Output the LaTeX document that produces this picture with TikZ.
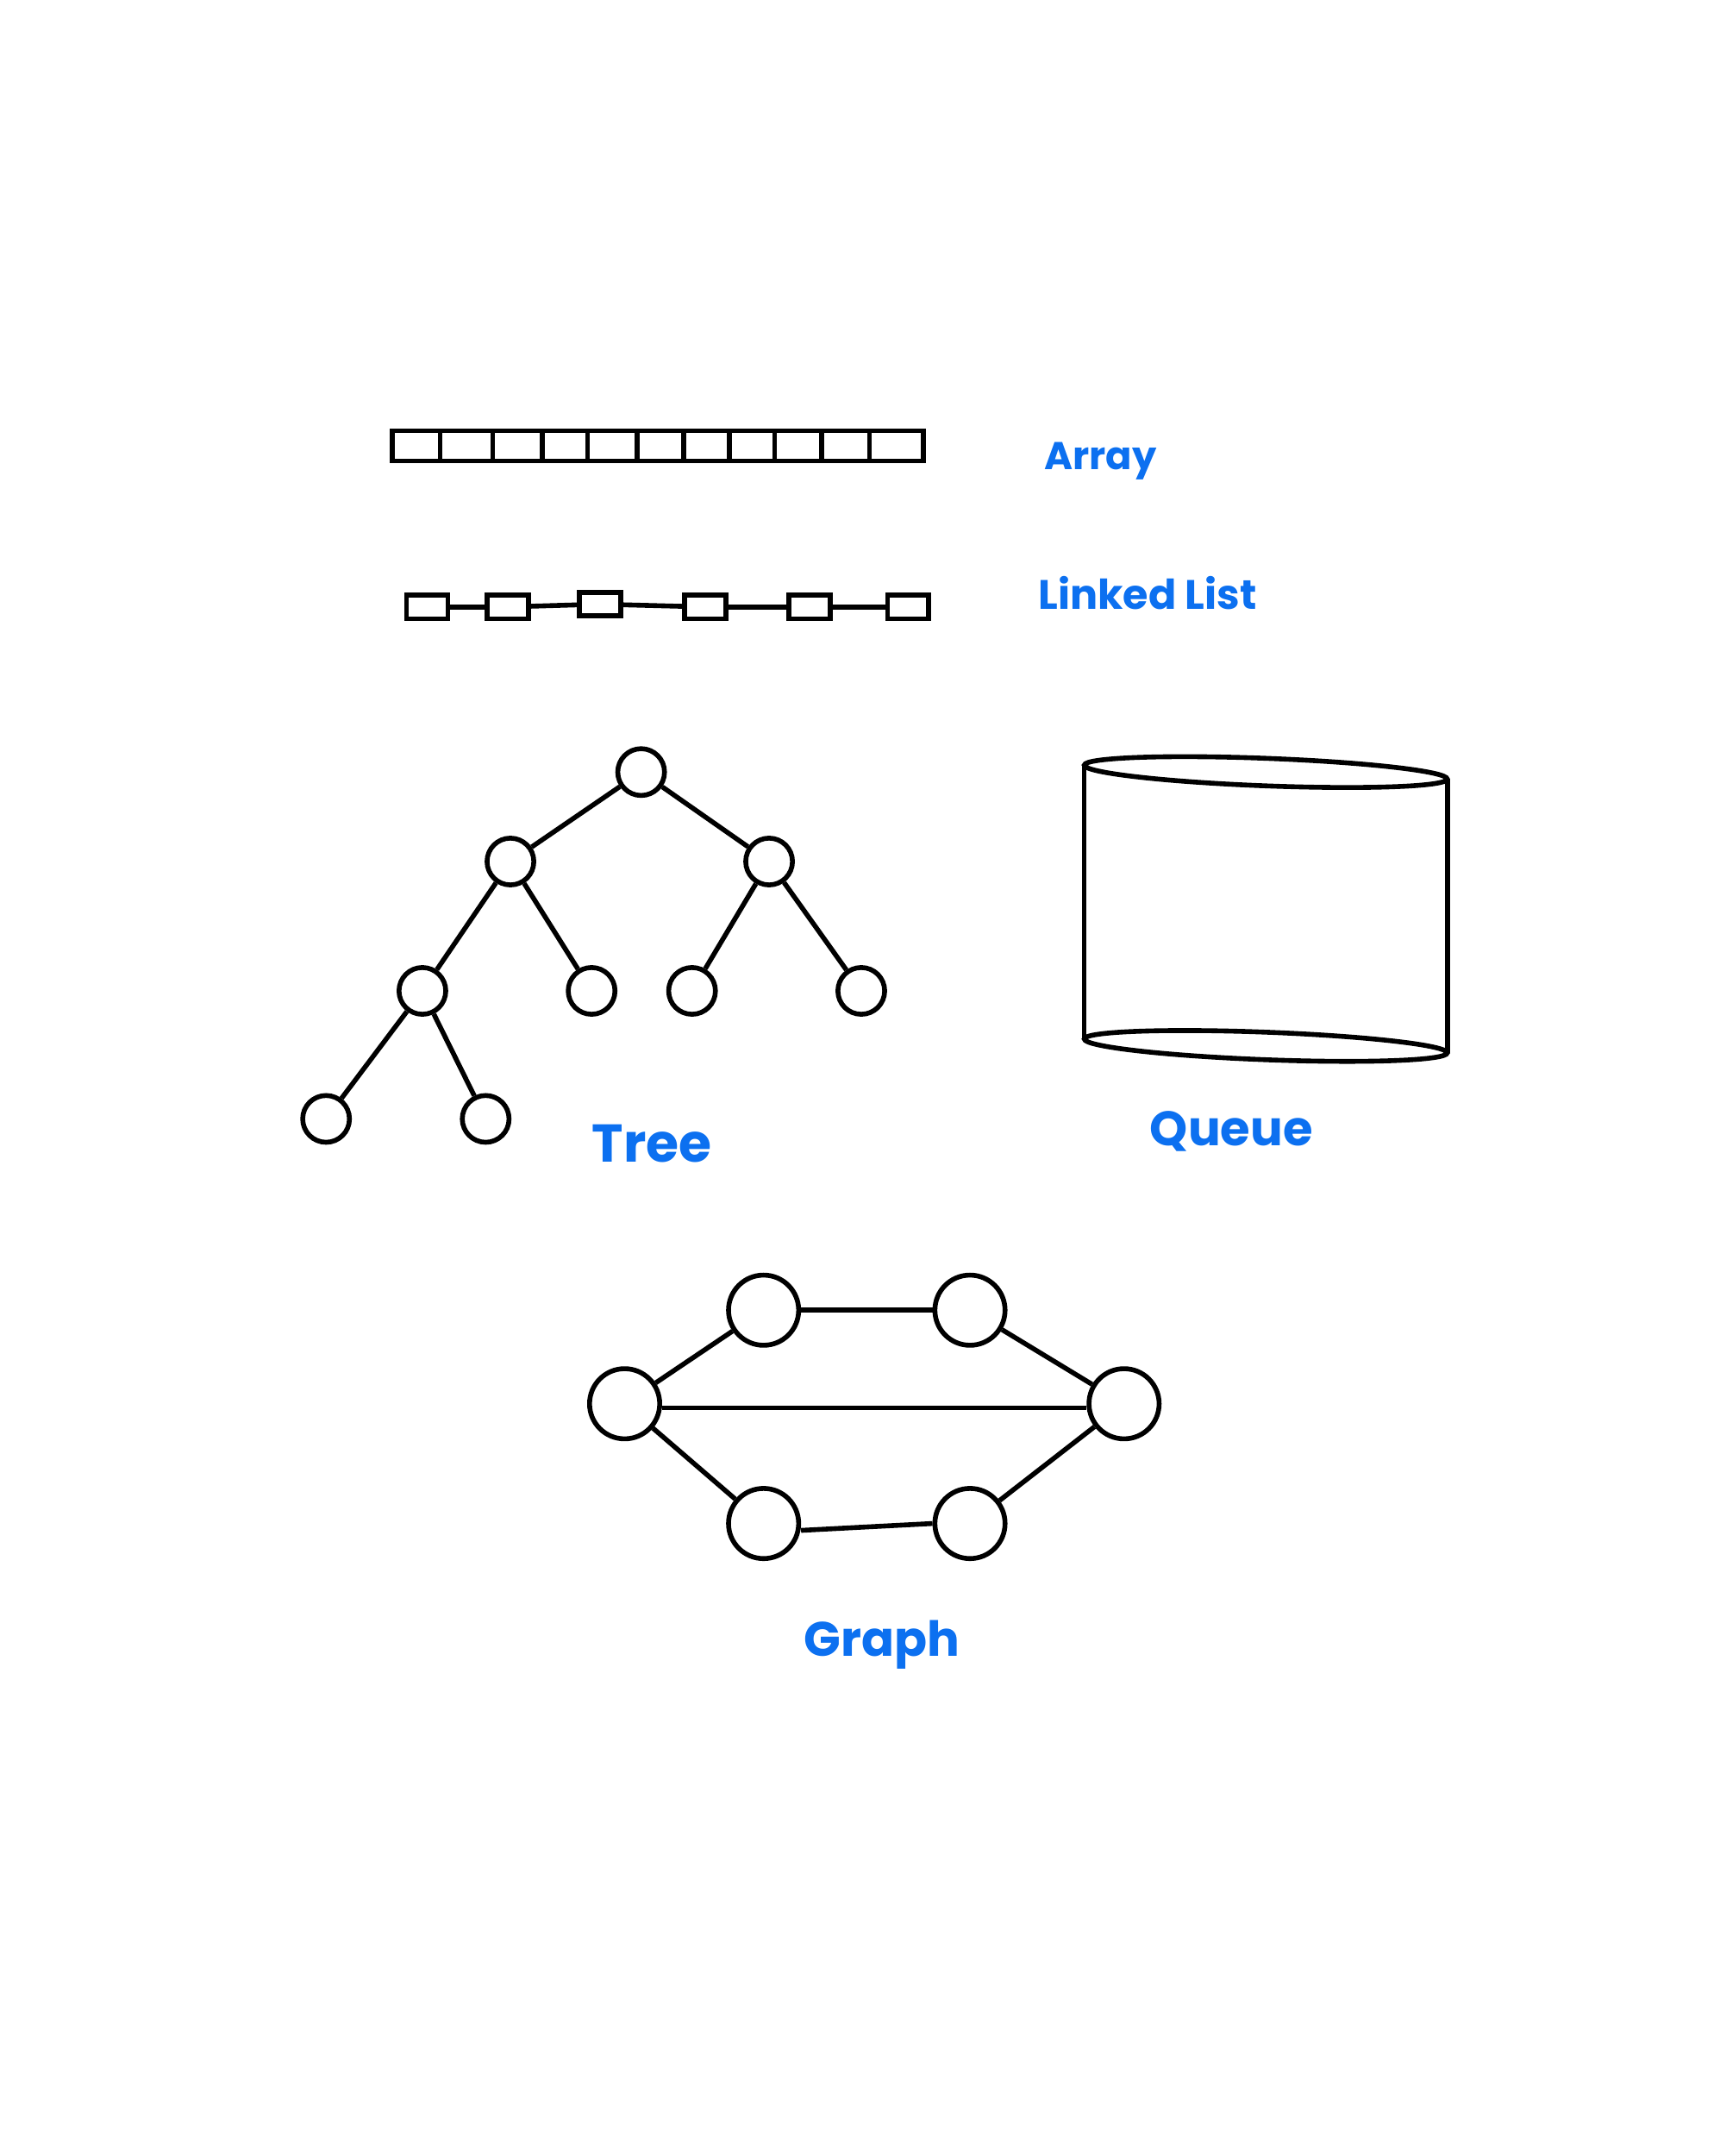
\documentclass[tikz,border=0pt]{standalone}
\usepackage{fontspec}
\setmainfont{Poppins}
\definecolor{lblblue}{RGB}{12,112,240}
\tikzset{
  knoten/.style={draw,circle,minimum size=0.68cm,inner sep=0pt},
  gknoten/.style={draw,circle,minimum size=1.02cm,inner sep=0pt},
  llbox/.style={draw,rectangle,minimum width=0.6cm,minimum height=0.34cm,inner sep=0pt},
  lbl/.style={text=lblblue,inner sep=0pt},
}
\begin{document}
\begin{tikzpicture}[x=0.02cm,y=-0.02cm,line width=2pt]

\fill[white] (0,0) rectangle (1250,1566.6);
\useasboundingbox (0,0) rectangle (1250,1566.6);

% Array (oben)
\draw (285,313) rectangle (671,335);
\draw (320,313) -- (320,335) (358,313) -- (358,335) (394,313) -- (394,335)
      (427,313) -- (427,335) (463,313) -- (463,335) (497,313) -- (497,335)
      (530,313) -- (530,335) (563,313) -- (563,335) (597,313) -- (597,335)
      (632,313) -- (632,335);
\node[lbl,font=\bfseries\fontsize{16}{19}\selectfont] (ArrL) at (800,335) {Array};


% verkettete Liste
\node[llbox] (L1) at (310.5,441) {};
\node[llbox] (L2) at (369,441)   {};
\node[llbox] (L3) at (436,439)   {};
\node[llbox] (L4) at (512.5,441) {};
\node[llbox] (L5) at (588.5,441) {};
\node[llbox] (L6) at (660,441)   {};

\draw (L1) -- (L2);
\draw (L2) -- (L3);
\draw (L3) -- (L4);
\draw (L4) -- (L5);
\draw (L5) -- (L6);

\node[lbl,font=\bfseries\fontsize{17}{20}\selectfont] (LLL) at (834,431) {Linked List};


% Baum (links)
\node[knoten] (T)   at (466,561) {};
\node[knoten] (TL)  at (371,626) {};
\node[knoten] (TR)  at (559,626) {};
\node[knoten] (TLL) at (307,720) {};
\node[knoten] (TLR) at (430,720) {};
\node[knoten] (TRL) at (503,720) {};
\node[knoten] (TRR) at (626,720) {};
\node[knoten] (TLLL) at (237,813) {};
\node[knoten] (TLLR) at (353,813) {};

\draw (T)   -- (TL);
\draw (T)   -- (TR);
\draw (TL)  -- (TLL);
\draw (TL)  -- (TLR);
\draw (TR)  -- (TRL);
\draw (TR)  -- (TRR);
\draw (TLL) -- (TLLL);
\draw (TLL) -- (TLLR);

\node[lbl,font=\bfseries\fontsize{22}{26}\selectfont] (TreeL) at (474,831) {Tree};


% Warteschlange (rechts)
\draw[rotate around={-2.2:(920,561)}] (920,561) ellipse [x radius=132, y radius=10];
\draw[rotate around={-2.2:(920,760)}] (920,760) ellipse [x radius=132, y radius=10];
\draw (788,556) -- (788,755);
\draw (1052,566) -- (1052,765);

\node[lbl,font=\bfseries\fontsize{20}{24}\selectfont] (QueueL) at (895,822) {Queue};


% Graph (unten)
\node[gknoten] (GA) at (454,1020) {};
\node[gknoten] (GB) at (555,952)  {};
\node[gknoten] (GC) at (705,952)  {};
\node[gknoten] (GD) at (817,1020) {};
\node[gknoten] (GE) at (555,1107) {};
\node[gknoten] (GF) at (705,1107) {};

\draw (GA) -- (GB);
\draw (GB) -- (GC);
\draw (GC) -- (GD);
\draw (GA.east) ++(0,3) -- (GD.west |- 0,1023);
\draw (GA) -- (GE);
\draw ([yshift=-0.1cm]GE.east) -- (GF.west);
\draw (GF) -- (GD);

\node[lbl,font=\bfseries\fontsize{20}{24}\selectfont] (GraphL) at (641,1195) {Graph};

\end{tikzpicture}
\end{document}
